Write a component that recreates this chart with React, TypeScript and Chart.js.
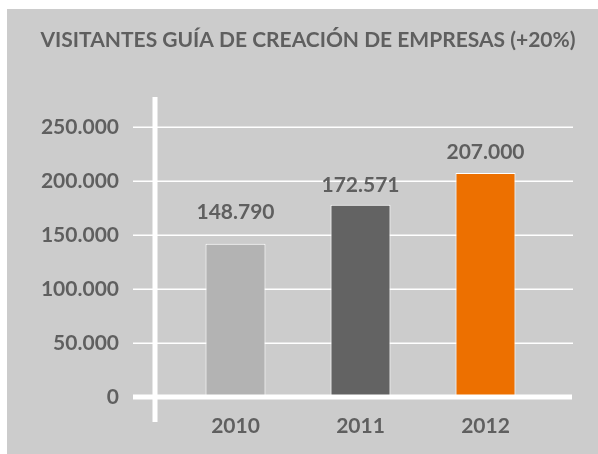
import { useEffect, useRef } from 'react';
import { Chart, registerables } from 'chart.js';

Chart.register(...registerables);

const categories = ['2010', '2011', '2012'];
const barValues = [142000, 178000, 207500];
const valueLabels = ['148.790', '172.571', '207.000'];
const barColors = ['#b3b3b3', '#636363', '#ed7000'];
const chartTitle = 'VISITANTES GUÍA DE CREACIÓN DE EMPRESAS (+20%)';
const yMax = 250000;
const yStep = 50000;

const FONT = 'Lato, Calibri, "Open Sans", sans-serif';
const TEXT = '#5f5f5f';
const labelGaps = [31, 20, 21];

const fmt = (v: number) => String(Math.round(v)).replace(/\B(?=(\d{3})+(?!\d))/g, '.');

const decor = {
  id: 'decor',
  beforeDatasetsDraw(chart: any) {
    const { ctx, chartArea: a, scales } = chart;
    const y = scales.y;
    ctx.save();
    ctx.strokeStyle = '#ffffff';
    ctx.lineWidth = 1.5;
    y.ticks.forEach((t: any) => {
      if (t.value === 0) return;
      const py = Math.round(y.getPixelForValue(t.value)) + 0.25;
      ctx.beginPath();
      ctx.moveTo(a.left - 40, py);
      ctx.lineTo(a.right + 25, py);
      ctx.stroke();
    });
    ctx.restore();
  },
  afterDatasetsDraw(chart: any) {
    const { ctx, chartArea: a, scales } = chart;
    const y = scales.y;
    ctx.save();
    ctx.fillStyle = '#ffffff';
    const zy = y.getPixelForValue(0);
    ctx.fillRect(a.left - 40, zy - 2.5, a.right + 24 - (a.left - 40), 5);
    ctx.fillRect(a.left - 20.5, a.top - 30, 5, a.bottom + 25 - (a.top - 30));
    const meta = chart.getDatasetMeta(0);
    ctx.fillStyle = TEXT;
    ctx.font = `bold 21px ${FONT}`;
    ctx.textAlign = 'center';
    ctx.textBaseline = 'middle';
    meta.data.forEach((bar: any, i: number) => {
      ctx.fillText(valueLabels[i], bar.x, bar.y - labelGaps[i]);
    });
    // title
    ctx.font = `bold 21px ${FONT}`;
    ctx.fillText(chartTitle, (chart.width + 11) / 2, 31);
    ctx.restore();
  },
};

export default function App() {
  const ref = useRef<HTMLCanvasElement>(null);
  useEffect(() => {
    if (!ref.current) return;
    const chart = new Chart(ref.current, {
      type: 'bar',
      data: {
        labels: categories,
        datasets: [
          {
            data: barValues,
            backgroundColor: barColors,
            borderColor: '#ffffff',
            borderWidth: 1,
            barPercentage: 0.48,
            categoryPercentage: 1,
          },
        ],
      },
      options: {
        responsive: false,
        animation: false,
        layout: { padding: { left: 0, right: 50, top: 118, bottom: 0 } },
        plugins: {
          legend: { display: false },
          tooltip: { enabled: false },
          title: { display: false },
        },
        scales: {
          x: {
            grid: { display: false, drawTicks: false },
            border: { display: false },
            ticks: { color: TEXT, font: { family: FONT, size: 21, weight: 'bold' }, padding: 17 },
            afterFit(scale: any) {
              scale.height = 57;
            },
          },
          y: {
            min: 0,
            max: yMax,
            grid: { display: false, drawTicks: false },
            border: { display: false },
            ticks: {
              stepSize: yStep,
              color: TEXT,
              font: { family: FONT, size: 21, weight: 'bold' },
              padding: 54,
              callback: (v: any) => fmt(Number(v)),
            },
            afterFit(scale: any) {
              scale.width = 166;
              scale.paddingTop = 0;
              scale.paddingBottom = 0;
            },
          },
        },
      },
      plugins: [decor],
    });
    return () => chart.destroy();
  }, []);
  return (
    <div style={{ position: 'absolute', left: 7, top: 9, width: 591, height: 445, background: '#cccccc' }}>
      <canvas ref={ref} width={591} height={445} style={{ display: 'block' }} />
    </div>
  );
}
